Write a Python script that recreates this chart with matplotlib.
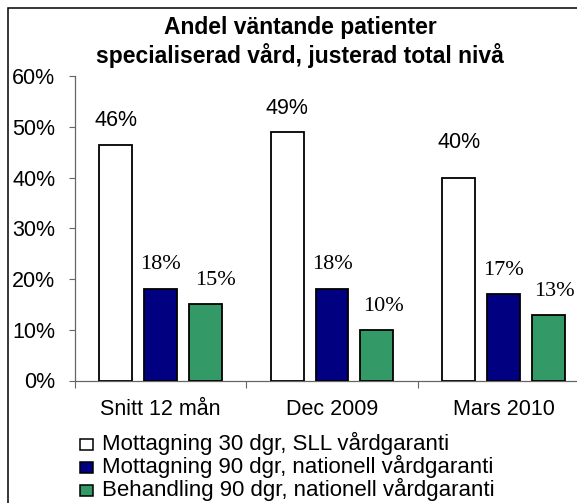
import matplotlib
matplotlib.use("Agg")
import matplotlib.pyplot as plt
from matplotlib.patches import Rectangle
import numpy as np

# ---- data ----
categories = ["Snitt 12 mån", "Dec 2009", "Mars 2010"]
series_names = [
    "Mottagning 30 dgr, SLL vårdgaranti",
    "Mottagning 90 dgr, nationell vårdgaranti",
    "Behandling 90 dgr, nationell vårdgaranti",
]
mottagning_30 = [46.4, 49, 40]
mottagning_90 = [18, 18, 17]
behandling_90 = [15, 10, 13]
yticks = [0, 10, 20, 30, 40, 50, 60]
title_lines = ["Andel väntande patienter", "specialiserad vård, justerad total nivå"]

# ---- style ----
colors = ["#FFFFFF", "#000080", "#339966"]
label_fonts = ["Liberation Sans", "Liberation Serif", "Liberation Serif"]
label_sizes = [15.5, 16, 16]
# label offsets in pixels (dx, gap above bar top to baseline)
label_dx = [[0, 0, 0], [0, 0, 0], [10, 7, 6]]
label_gap = [[19, 18, 29], [20, 20, 19], [19, 19, 19]]

W, H = 577, 503
DPI = 100
fig = plt.figure(figsize=(W / DPI, H / DPI), dpi=DPI)
fig.patch.set_facecolor("white")


def fx(px):
    return px / W


def fy(py):
    return 1 - py / H


ax = fig.add_axes([fx(74.75), fy(380.5), fx(514.5), 304.5 / H])

series = [mottagning_30, mottagning_90, behandling_90]
x = np.arange(len(categories))
step = 0.262
width = 0.192
px_per_pt = DPI / 72.0
for i, vals in enumerate(series):
    xs = x + (i - 1) * step
    ax.bar(xs, vals, width, color=colors[i], edgecolor="black", linewidth=1.3, zorder=3)
    for j, v in enumerate(vals):
        ax.annotate(
            f"{v:.0f}%",
            xy=(xs[j], v),
            xytext=(label_dx[i][j] / px_per_pt, label_gap[i][j] / px_per_pt),
            textcoords="offset points",
            ha="center",
            va="baseline",
            fontsize=label_sizes[i],
            family=label_fonts[i],
            color="black",
            annotation_clip=False,
        )

ax.set_xlim(-0.5, len(categories) - 0.5)
ax.set_ylim(0, 60)
ax.set_yticks(yticks)
ax.set_yticklabels([f"{t}%" for t in yticks], family="Liberation Sans", fontsize=15.5)
ax.tick_params(axis="y", length=4, width=0.8, color="#666666", pad=10)

ax.set_xticks(np.arange(len(categories) + 1) - 0.5)
ax.set_xticklabels([])
ax.tick_params(axis="x", which="major", length=5, width=0.8, color="#666666")
ax.set_xticks(x, minor=True)
ax.set_xticklabels(categories, minor=True, family="Liberation Sans", fontsize=15.5)
ax.tick_params(axis="x", which="minor", length=0, pad=13)

for s in ["top", "right"]:
    ax.spines[s].set_visible(False)
for s in ["left", "bottom"]:
    ax.spines[s].set_color("#666666")
    ax.spines[s].set_linewidth(0.9)
ax.set_facecolor("none")

# title
fig.text(fx(300), fy(34), title_lines[0], ha="center", va="baseline",
         family="Liberation Sans", fontweight="bold", fontsize=16.5)
fig.text(fx(300), fy(63), title_lines[1], ha="center", va="baseline",
         family="Liberation Sans", fontweight="bold", fontsize=16.5)

# legend
for i, name in enumerate(series_names):
    base = 450 + 23 * i
    fig.add_artist(Rectangle((fx(80), fy(base)), fx(13), 11 / H,
                             transform=fig.transFigure, facecolor=colors[i],
                             edgecolor="black", linewidth=1.1))
    fig.text(fx(102), fy(base), name, ha="left", va="baseline",
             family="Liberation Sans", fontsize=16)

# chart border
fig.add_artist(Rectangle((fx(8), -0.1), 1.2, fy(8) + 0.1, transform=fig.transFigure,
                         fill=False, edgecolor="black", linewidth=1.1))

fig.savefig("out.png", dpi=DPI)
